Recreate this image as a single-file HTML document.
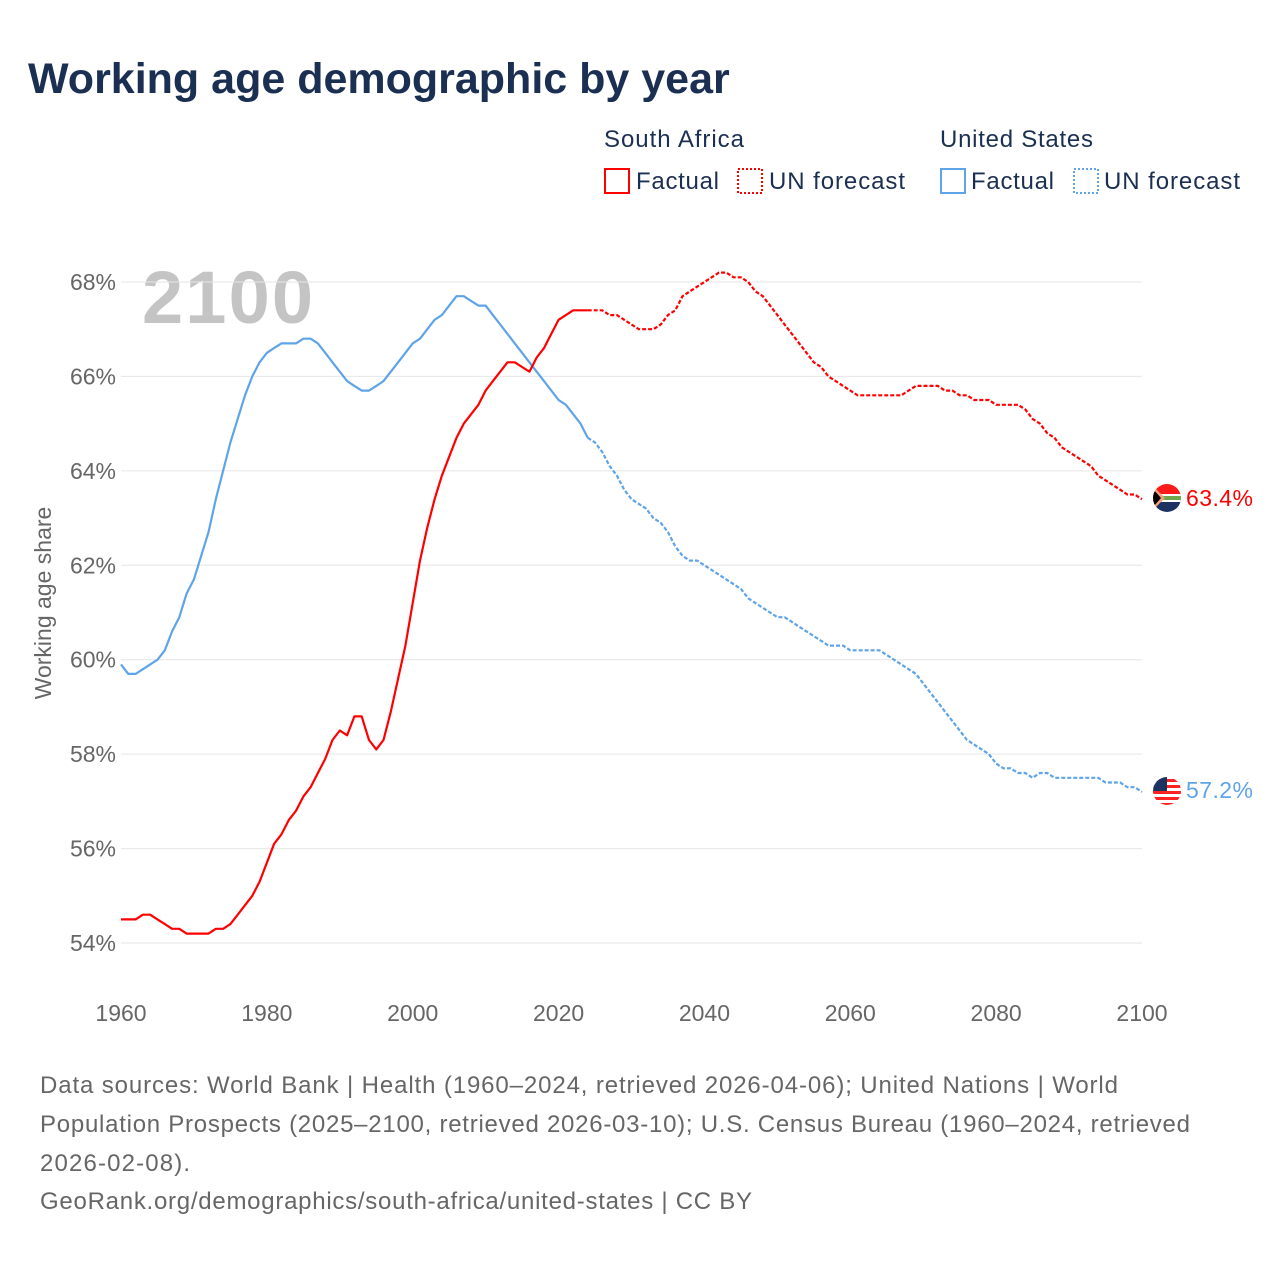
<!DOCTYPE html>
<html><head><meta charset="utf-8"><style>
body{margin:0;background:#fff;font-family:"Liberation Sans",sans-serif}
svg text{font-family:"Liberation Sans",sans-serif}
</style></head><body>
<svg width="1280" height="1280" viewBox="0 0 1280 1280">
<text x="28" y="93" font-size="43" font-weight="bold" fill="#1b2f52">Working age demographic by year</text>
<g font-size="24" fill="#1b2f52">
<text x="604" y="147" textLength="140">South Africa</text>
<text x="940" y="147" textLength="153">United States</text>
<g><rect x="605" y="169" width="24" height="24" fill="none" stroke="#ff0000" stroke-width="2"/><text x="636" y="189" textLength="83">Factual</text></g>
<g><rect x="738" y="169" width="24" height="24" fill="none" stroke="#ff0000" stroke-width="2" stroke-dasharray="2,2"/><text x="769" y="189" textLength="136">UN forecast</text></g>
<g><rect x="941" y="169" width="24" height="24" fill="none" stroke="#5fa4e8" stroke-width="2"/><text x="971" y="189" textLength="83">Factual</text></g>
<g><rect x="1074" y="169" width="24" height="24" fill="none" stroke="#5fa4e8" stroke-width="2" stroke-dasharray="2,2"/><text x="1104" y="189" textLength="136">UN forecast</text></g>
</g>
<text x="142" y="323" font-size="74" font-weight="bold" fill="#c4c4c4" textLength="171">2100</text>
<g id="grid"></g>
<g id="axes"></g>
<g id="series"></g>
<text transform="translate(51,603) rotate(-90)" text-anchor="middle" font-size="23" fill="#666">Working age share</text>
<g>
<clipPath id="c1"><circle cx="1167" cy="498" r="14"/></clipPath>
<g clip-path="url(#c1)"><rect x="1153" y="484" width="28" height="14" fill="#ff1a1a"/><rect x="1153" y="498" width="28" height="14" fill="#1c3260"/><rect x="1153" y="494" width="28" height="8" fill="#fff"/><rect x="1153" y="496" width="28" height="4" fill="#6fa84b"/><polygon points="1153,486 1165,498 1153,510" fill="#f2a07a"/><polygon points="1153,489 1161,498 1153,507" fill="#000"/></g>
</g>
<text x="1186" y="506" font-size="23" fill="#ff0000" textLength="67">63.4%</text>
<g>
<clipPath id="c2"><circle cx="1167" cy="791" r="14"/></clipPath>
<g clip-path="url(#c2)"><rect x="1153" y="777" width="28" height="28" fill="#fff"/><rect x="1153" y="779" width="28" height="3" fill="#f22"/><rect x="1153" y="785" width="28" height="3" fill="#f22"/><rect x="1153" y="791" width="28" height="3" fill="#f22"/><rect x="1153" y="797" width="28" height="3" fill="#f22"/><rect x="1153" y="803" width="28" height="3" fill="#f22"/><rect x="1153" y="777" width="14" height="14" fill="#1c3260"/></g>
</g>
<text x="1186" y="798" font-size="23" fill="#5fa4e8" textLength="67">57.2%</text>
<g font-size="24" fill="#666">
<text x="40" y="1093" textLength="1078">Data sources: World Bank | Health (1960–2024, retrieved 2026-04-06); United Nations | World</text>
<text x="40" y="1132" textLength="1150">Population Prospects (2025–2100, retrieved 2026-03-10); U.S. Census Bureau (1960–2024, retrieved</text>
<text x="40" y="1171" textLength="150">2026-02-08).</text>
<text x="40" y="1209" textLength="712">GeoRank.org/demographics/south-africa/united-states | CC BY</text>
</g>
</svg>
<script>
const startYear = 1960;
const lastFactualYear = 2024;
const yTicks = [54,56,58,60,62,64,66,68];
const xTicks = [1960,1980,2000,2020,2040,2060,2080,2100];
const usValues = [59.9,59.7,59.7,59.8,59.9,60.0,60.2,60.6,60.9,61.4,61.7,62.2,62.7,63.4,64.0,64.6,65.1,65.6,66.0,66.3,66.5,66.6,66.7,66.7,66.7,66.8,66.8,66.7,66.5,66.3,66.1,65.9,65.8,65.7,65.7,65.8,65.9,66.1,66.3,66.5,66.7,66.8,67.0,67.2,67.3,67.5,67.7,67.7,67.6,67.5,67.5,67.3,67.1,66.9,66.7,66.5,66.3,66.1,65.9,65.7,65.5,65.4,65.2,65.0,64.7,64.6,64.4,64.1,63.9,63.6,63.4,63.3,63.2,63.0,62.9,62.7,62.4,62.2,62.1,62.1,62.0,61.9,61.8,61.7,61.6,61.5,61.3,61.2,61.1,61.0,60.9,60.9,60.8,60.7,60.6,60.5,60.4,60.3,60.3,60.3,60.2,60.2,60.2,60.2,60.2,60.1,60.0,59.9,59.8,59.7,59.5,59.3,59.1,58.9,58.7,58.5,58.3,58.2,58.1,58.0,57.8,57.7,57.7,57.6,57.6,57.5,57.6,57.6,57.5,57.5,57.5,57.5,57.5,57.5,57.5,57.4,57.4,57.4,57.3,57.3,57.2];
const saValues = [54.5,54.5,54.5,54.6,54.6,54.5,54.4,54.3,54.3,54.2,54.2,54.2,54.2,54.3,54.3,54.4,54.6,54.8,55.0,55.3,55.7,56.1,56.3,56.6,56.8,57.1,57.3,57.6,57.9,58.3,58.5,58.4,58.8,58.8,58.3,58.1,58.3,58.9,59.6,60.3,61.2,62.1,62.8,63.4,63.9,64.3,64.7,65.0,65.2,65.4,65.7,65.9,66.1,66.3,66.3,66.2,66.1,66.4,66.6,66.9,67.2,67.3,67.4,67.4,67.4,67.4,67.4,67.3,67.3,67.2,67.1,67.0,67.0,67.0,67.1,67.3,67.4,67.7,67.8,67.9,68.0,68.1,68.2,68.2,68.1,68.1,68.0,67.8,67.7,67.5,67.3,67.1,66.9,66.7,66.5,66.3,66.2,66.0,65.9,65.8,65.7,65.6,65.6,65.6,65.6,65.6,65.6,65.6,65.7,65.8,65.8,65.8,65.8,65.7,65.7,65.6,65.6,65.5,65.5,65.5,65.4,65.4,65.4,65.4,65.3,65.1,65.0,64.8,64.7,64.5,64.4,64.3,64.2,64.1,63.9,63.8,63.7,63.6,63.5,63.5,63.4];
const NS='http://www.w3.org/2000/svg';
function xS(y){return 121+(y-1960)*(1142-121)/140;}
function yS(v){return 282+(68-v)*(943-282)/14;}
const grid=document.getElementById('grid'),axes=document.getElementById('axes'),series=document.getElementById('series');
yTicks.forEach(t=>{
 const l=document.createElementNS(NS,'line');
 l.setAttribute('x1',121);l.setAttribute('x2',1142);l.setAttribute('y1',yS(t));l.setAttribute('y2',yS(t));
 l.setAttribute('stroke','#e6e6e6');l.setAttribute('stroke-width','1');
 
 
 grid.appendChild(l);
 const tx=document.createElementNS(NS,'text');
 tx.setAttribute('x',116);tx.setAttribute('y',yS(t)+8);tx.setAttribute('text-anchor','end');
 tx.setAttribute('font-size','23');tx.setAttribute('fill','#666');tx.textContent=t+'%';
 
 
 axes.appendChild(tx);
});
xTicks.forEach(t=>{
 const tx=document.createElementNS(NS,'text');
 tx.setAttribute('x',xS(t));tx.setAttribute('y',1021);tx.setAttribute('text-anchor','middle');
 tx.setAttribute('font-size','23');tx.setAttribute('fill','#666');tx.textContent=t;
 
 
 axes.appendChild(tx);
});
function draw(vals,color,name){
 const cut=lastFactualYear-startYear;
 const pf=[],pc=[];
 vals.forEach((v,i)=>{const p=xS(startYear+i).toFixed(1)+','+yS(v).toFixed(1);if(i<=cut)pf.push(p);if(i>=cut)pc.push(p);});
 const a=document.createElementNS(NS,'polyline');
 a.setAttribute('points',pf.join(' '));a.setAttribute('fill','none');a.setAttribute('stroke',color);a.setAttribute('stroke-width','2.2');a.setAttribute('stroke-linejoin','round');
 
 
 series.appendChild(a);
 const b=document.createElementNS(NS,'polyline');
 b.setAttribute('points',pc.join(' '));b.setAttribute('fill','none');b.setAttribute('stroke',color);b.setAttribute('stroke-width','2.2');b.setAttribute('stroke-dasharray','4,2');
 
 
 series.appendChild(b);
}
draw(usValues,'#5fa4e8','us');
draw(saValues,'#ff0000','sa');
</script>
</body></html>
